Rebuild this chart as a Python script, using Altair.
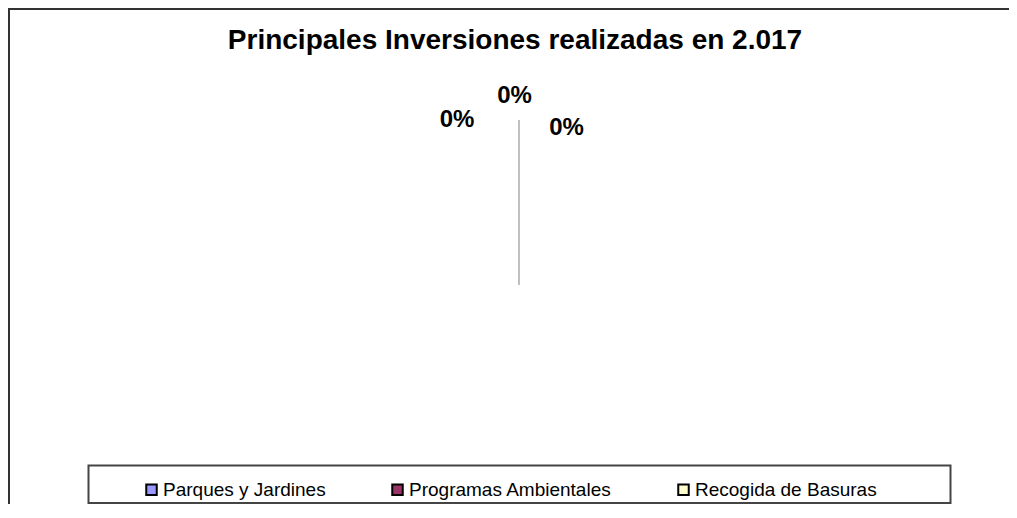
import altair as alt
import pandas as pd

# ---- data ----
categorias = ["Parques y Jardines", "Programas Ambientales", "Recogida de Basuras"]
inversiones = [0, 0, 0]
orden = [0, 1, 2]
colores = ["#9999FF", "#993366", "#FFFFCC"]
titulo = "Principales Inversiones realizadas en 2.017"

df = pd.DataFrame({"categoria": categorias, "inversion": inversiones, "orden": orden})

# ---- layout / style ----
W, H = 1001, 496
CX, CY, R = 511, 277, 165
FONT = "Liberation Sans, Arial, sans-serif"
label_offsets = {
    "Parques y Jardines": (-62, 0),
    "Programas Ambientales": (-4.5, -24.5),
    "Recogida de Basuras": (47.5, 7.5),
}

theta = alt.Theta("inversion:Q", stack=True, scale=alt.Scale(domain=[0, 1]))

base = alt.Chart(df).transform_joinaggregate(
    total="sum(inversion)"
).transform_calculate(
    pct="datum.total > 0 ? datum.inversion / datum.total : 0"
)

pie = base.mark_arc(outerRadius=R, stroke="#C0C0C0", strokeWidth=2).encode(
    theta=theta,
    color=alt.Color(
        "categoria:N",
        scale=alt.Scale(domain=categorias, range=colores),
        sort=categorias,
        legend=alt.Legend(
            title=None,
            orient="none",
            legendX=134,
            legendY=472,
            direction="horizontal",
            columns=3,
            columnPadding=62,
            symbolType="square",
            symbolSize=110,
            symbolStrokeWidth=2,
            symbolStrokeColor="black",
            symbolOpacity=1,
            labelFont=FONT,
            labelFontSize=19,
            labelColor="black",
            labelOffset=2,
            labelLimit=0,
            padding=0,
        ),
    ),
    order=alt.Order("orden:Q"),
    x=alt.value(CX),
    y=alt.value(CY),
)

labels = []
for cat in categorias:
    dx, dy = label_offsets[cat]
    labels.append(
        base.transform_filter(alt.datum.categoria == cat)
        .mark_text(
            radius=R, dx=dx, dy=dy, font=FONT, fontSize=24, fontWeight="bold",
            color="black", align="center", baseline="middle",
        )
        .encode(
            theta=theta,
            text=alt.Text("pct:Q", format=".0%"),
            x=alt.value(CX),
            y=alt.value(CY),
        )
    )

deco = alt.Data(values=[{"k": 0}])
# outer chart frame: its right and bottom edges run off the canvas, as in the cropped reference
frame = alt.Chart(deco).mark_rect(
    fillOpacity=0, stroke="#333333", strokeWidth=2
).encode(
    x=alt.value(1), x2=alt.value(W + 30), y=alt.value(1), y2=alt.value(H + 30)
)
legend_box = alt.Chart(deco).mark_rect(
    fillOpacity=0, stroke="#444444", strokeWidth=2
).encode(
    x=alt.value(80.5), x2=alt.value(942.5), y=alt.value(457.5), y2=alt.value(H - 1)
)

chart = alt.layer(frame, legend_box, pie, *labels).properties(
    width=W,
    height=H,
    padding=0,
    autosize="none",
    title=alt.TitleParams(
        titulo, font=FONT, fontSize=28, fontWeight="bold", color="black",
        anchor="middle", dx=6.5, offset=-47, frame="group",
    ),
).configure_view(stroke="transparent", strokeWidth=0)

chart.save("out.html", embed_options={"renderer": "svg", "actions": False})
